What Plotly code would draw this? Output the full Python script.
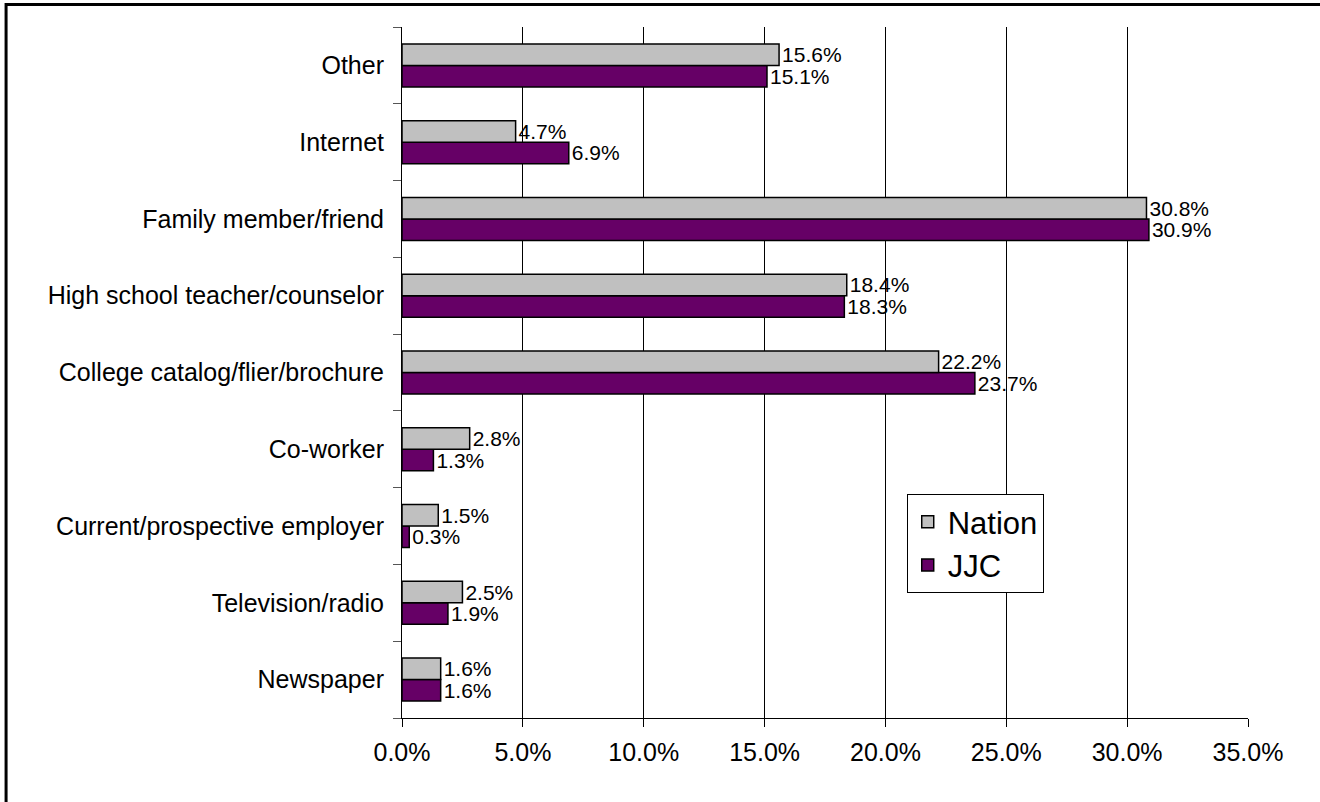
import plotly.graph_objects as go

categories = [
    "Newspaper",
    "Television/radio",
    "Current/prospective employer",
    "Co-worker",
    "College catalog/flier/brochure",
    "High school teacher/counselor",
    "Family member/friend",
    "Internet",
    "Other",
]
nation = [1.6, 2.5, 1.5, 2.8, 22.2, 18.4, 30.8, 4.7, 15.6]
jjc = [1.6, 1.9, 0.3, 1.3, 23.7, 18.3, 30.9, 6.9, 15.1]
x_ticks = [0, 5, 10, 15, 20, 25, 30, 35]

FONT = "Arial, Liberation Sans, sans-serif"

fig = go.Figure()
fig.add_trace(go.Bar(
    name="JJC", y=categories, x=jjc, orientation="h",
    marker=dict(color="#660066", line=dict(color="black", width=1.5)),
    text=[f"{v:.1f}%" for v in jjc], textposition="outside",
    textfont=dict(size=21, color="black", family=FONT),
    constraintext="none", cliponaxis=False,
))
fig.add_trace(go.Bar(
    name="Nation", y=categories, x=nation, orientation="h",
    marker=dict(color="#C0C0C0", line=dict(color="black", width=1.5)),
    text=[f"{v:.1f}%" for v in nation], textposition="outside",
    textfont=dict(size=21, color="black", family=FONT),
    constraintext="none", cliponaxis=False,
))

fig.update_layout(
    width=1320, height=802,
    margin=dict(l=402, r=72, t=27, b=84),
    paper_bgcolor="white", plot_bgcolor="white",
    barmode="group", bargap=0.44, bargroupgap=0,
    font=dict(family=FONT, size=25, color="black"),
    legend=dict(
        x=0.5966, y=0.324, xanchor="left", yanchor="top",
        traceorder="reversed",
        bordercolor="black", borderwidth=1,
        font=dict(size=31, family=FONT, color="black"),
        bgcolor="white",
    ),
    xaxis=dict(
        range=[0, 35], tickvals=x_ticks,
        ticktext=[f"{v:.1f}%" for v in x_ticks],
        showgrid=True, gridcolor="black", gridwidth=1,
        showline=True, linecolor="black", linewidth=1,
        ticks="outside", ticklen=8, tickcolor="black",
        zeroline=False,
        ticklabelstandoff=4,
        tickfont=dict(size=25, family=FONT, color="black"),
    ),
    yaxis=dict(
        showline=True, linecolor="black", linewidth=1,
        ticks="outside", ticklen=8, tickcolor="#555555",
        tickson="boundaries",
        showgrid=False,
        ticklabelstandoff=12,
        tickfont=dict(size=25, family=FONT, color="black"),
    ),
    shapes=[dict(
        type="rect", xref="paper", yref="paper",
        x0=-0.468, x1=2.0, y0=-2.0, y1=1.0326,
        line=dict(color="black", width=3), layer="above",
    )],
)

fig.write_html(
    "out.html",
    config={"displayModeBar": False},
    post_script="document.body.style.margin='0';document.body.style.overflow='hidden';",
)
